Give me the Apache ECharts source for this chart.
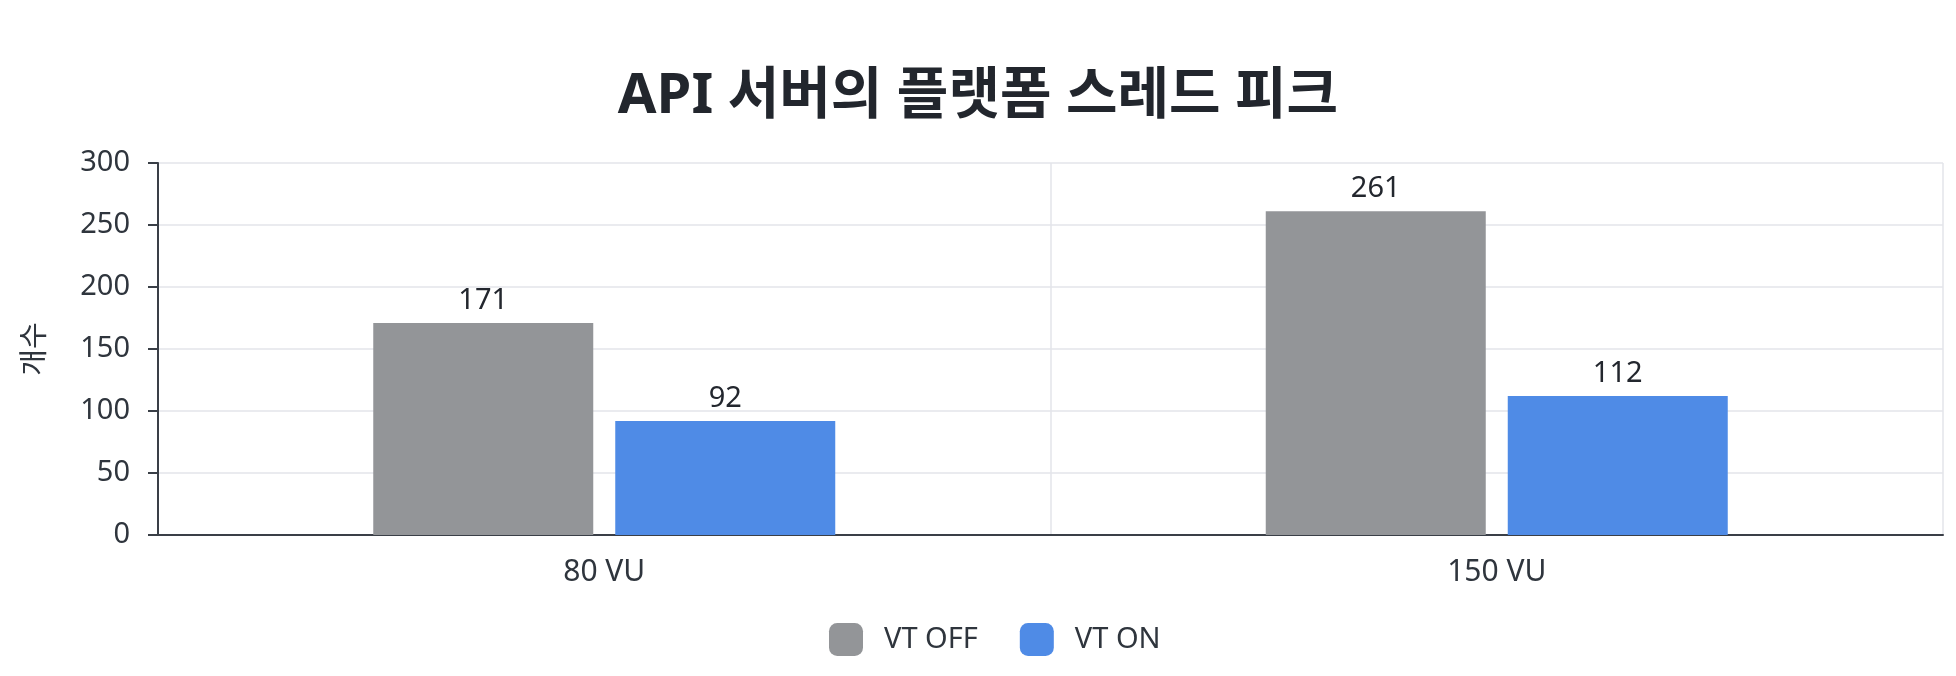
<!DOCTYPE html>
<html>
<head>
<meta charset="utf-8">
<script src="https://cdn.jsdelivr.net/npm/echarts@6/dist/echarts.min.js"></script>
<style>
    html, body { margin: 0; padding: 0; background: #fff; }
    #chart { width: 1956px; height: 676px; }
</style>
</head>
<body>
<div id="chart"></div>
<script>
const categories = ['80 VU', '150 VU'];
const seriesNames = ['VT OFF', 'VT ON'];
const vtOff = [171, 261];
const vtOn = [92, 112];
const yTicks = [0, 50, 100, 150, 200, 250, 300];

const FONT = "'Noto Sans', 'Noto Sans CJK KR', sans-serif";
const textColor = '#2f353d';
const gridColor = '#e3e5ea';

onload = () => {
    const myChart = echarts.init(document.getElementById('chart'));
    let option = {
        backgroundColor: '#ffffff',
        textStyle: { fontFamily: FONT },
        title: {
            text: 'API 서버의 플랫폼 스레드 피크',
            left: 'center',
            top: 64,
            textStyle: { fontFamily: FONT, fontSize: 56, fontWeight: 'bold', color: '#22262d' },
        },
        legend: {
            data: seriesNames,
            left: 824,
            top: 618,
            itemWidth: 34,
            itemHeight: 33,
            itemGap: 42,
            textStyle: { fontFamily: FONT, fontSize: 29, color: textColor, padding: [0, 0, 0, 16] },
        },
        grid: { left: 158, right: 13, top: 163, bottom: 141 },
        xAxis: {
            type: 'category',
            data: categories,
            axisLine: { lineStyle: { color: '#3a3f47', width: 2 } },
            axisTick: { show: false },
            axisLabel: { fontFamily: FONT, fontSize: 30, color: textColor, margin: 22 },
            splitLine: { show: true, lineStyle: { color: gridColor, width: 1.5 } },
        },
        yAxis: {
            type: 'value',
            min: yTicks[0],
            max: yTicks[yTicks.length - 1],
            interval: yTicks[1] - yTicks[0],
            name: '개수',
            nameLocation: 'middle',
            nameGap: 108,
            nameTextStyle: { fontFamily: FONT, fontSize: 29, color: textColor },
            axisLine: { show: true, lineStyle: { color: '#3a3f47', width: 2 } },
            axisTick: { show: true, length: 10, lineStyle: { color: '#3a3f47', width: 2 } },
            axisLabel: { fontFamily: FONT, fontSize: 29, color: textColor, margin: 28 },
            splitLine: { lineStyle: { color: gridColor, width: 1.5 } },
        },
        series: [
            {
                name: seriesNames[0],
                type: 'bar',
                data: vtOff,
                barWidth: 220,
                barGap: '10%',
                itemStyle: { color: '#939598' },
                label: { show: true, position: 'top', distance: 8, fontFamily: FONT, fontSize: 29, color: '#23272e' },
            },
            {
                name: seriesNames[1],
                type: 'bar',
                data: vtOn,
                barWidth: 220,
                barGap: '10%',
                itemStyle: { color: '#4f8be6' },
                label: { show: true, position: 'top', distance: 8, fontFamily: FONT, fontSize: 29, color: '#23272e' },
            },
        ],
    };
    option && myChart.setOption(option);
};
</script>
</body>
</html>
